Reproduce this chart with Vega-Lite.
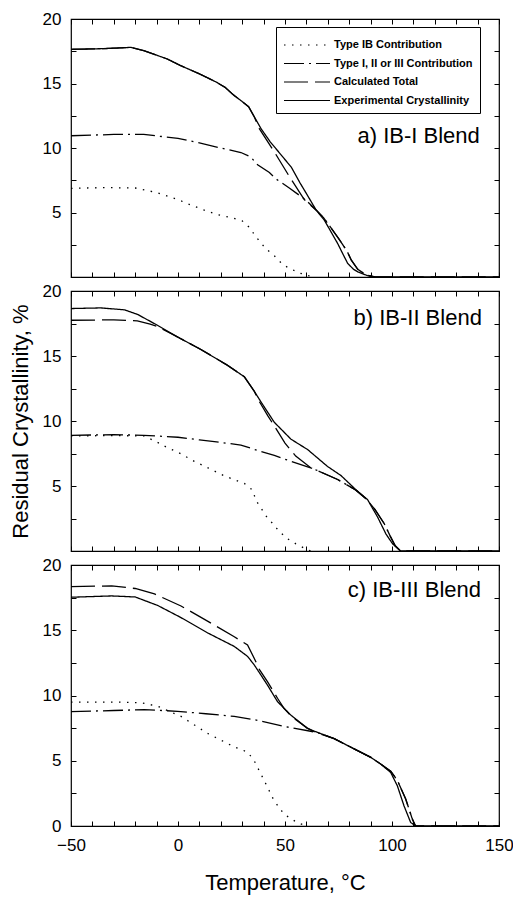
{
  "$schema": "https://vega.github.io/schema/vega-lite/v6.json",
  "padding": {"left": 8, "top": 9, "right": 10, "bottom": 5},
  "background": "white",
  "bounds": "flush",
  "config": {
    "font": "Liberation Sans",
    "view": {"stroke": "black", "strokeWidth": 1.2},
    "axis": {"domain": false, "grid": false, "tickColor": "black", "tickSize": -5, "tickWidth": 1, "labelColor": "black", "titleColor": "black", "labelFontSize": 17, "titleFontSize": 22, "titleFontWeight": "normal", "labelFont": "Liberation Sans", "titleFont": "Liberation Sans"}
  },
  "datasets": {
    "labels": [
      {"p": "a", "label": "a)  IB-I Blend"},
      {"p": "b", "label": "b)  IB-II Blend"},
      {"p": "c", "label": "c)  IB-III Blend"}
    ],
    "curves": [
      {"p":"a","s":"IB","t":-50,"c":6.87},{"p":"a","s":"IB","t":-35,"c":6.93},{"p":"a","s":"IB","t":-20,"c":6.9},{"p":"a","s":"IB","t":-10,"c":6.55},{"p":"a","s":"IB","t":0,"c":6.0},{"p":"a","s":"IB","t":5,"c":5.65},{"p":"a","s":"IB","t":12,"c":5.2},{"p":"a","s":"IB","t":18,"c":4.85},{"p":"a","s":"IB","t":25,"c":4.6},{"p":"a","s":"IB","t":30,"c":4.35},{"p":"a","s":"IB","t":33,"c":3.9},{"p":"a","s":"IB","t":37,"c":3.0},{"p":"a","s":"IB","t":41,"c":2.2},{"p":"a","s":"IB","t":45,"c":1.65},{"p":"a","s":"IB","t":49,"c":0.95},{"p":"a","s":"IB","t":53,"c":0.6},{"p":"a","s":"IB","t":57,"c":0.3},{"p":"a","s":"IB","t":61,"c":0.1},{"p":"a","s":"IB","t":64,"c":0},
      {"p":"a","s":"I","t":-50,"c":10.95},{"p":"a","s":"I","t":-30,"c":11.05},{"p":"a","s":"I","t":-16,"c":11.05},{"p":"a","s":"I","t":0,"c":10.75},{"p":"a","s":"I","t":10,"c":10.4},{"p":"a","s":"I","t":20,"c":10.0},{"p":"a","s":"I","t":29.4,"c":9.65},{"p":"a","s":"I","t":34,"c":9.3},{"p":"a","s":"I","t":37.2,"c":8.7},{"p":"a","s":"I","t":42.7,"c":8.1},{"p":"a","s":"I","t":45.8,"c":7.6},{"p":"a","s":"I","t":52,"c":6.9},{"p":"a","s":"I","t":59.5,"c":6.0},{"p":"a","s":"I","t":64.5,"c":5.2},{"p":"a","s":"I","t":68,"c":4.6},{"p":"a","s":"I","t":72,"c":3.7},{"p":"a","s":"I","t":75,"c":3.0},{"p":"a","s":"I","t":79,"c":2.0},{"p":"a","s":"I","t":81,"c":1.3},{"p":"a","s":"I","t":84,"c":0.6},{"p":"a","s":"I","t":88,"c":0.15},{"p":"a","s":"I","t":92,"c":0},
      {"p":"a","s":"calc","t":-50,"c":17.65},{"p":"a","s":"calc","t":-35,"c":17.7},{"p":"a","s":"calc","t":-22,"c":17.8},{"p":"a","s":"calc","t":-16,"c":17.55},{"p":"a","s":"calc","t":-5,"c":16.9},{"p":"a","s":"calc","t":1,"c":16.4},{"p":"a","s":"calc","t":10,"c":15.75},{"p":"a","s":"calc","t":18,"c":15.1},{"p":"a","s":"calc","t":22,"c":14.7},{"p":"a","s":"calc","t":26,"c":14.1},{"p":"a","s":"calc","t":30,"c":13.6},{"p":"a","s":"calc","t":33,"c":13.2},{"p":"a","s":"calc","t":35.7,"c":12.4},{"p":"a","s":"calc","t":38,"c":11.5},{"p":"a","s":"calc","t":45,"c":9.7},{"p":"a","s":"calc","t":52,"c":7.8},{"p":"a","s":"calc","t":59,"c":6.0},{"p":"a","s":"calc","t":64.5,"c":5.2},{"p":"a","s":"calc","t":68,"c":4.6},{"p":"a","s":"calc","t":72,"c":3.7},{"p":"a","s":"calc","t":75,"c":3.0},{"p":"a","s":"calc","t":79,"c":2.0},{"p":"a","s":"calc","t":81,"c":1.3},{"p":"a","s":"calc","t":84,"c":0.6},{"p":"a","s":"calc","t":88,"c":0.15},{"p":"a","s":"calc","t":92,"c":0},{"p":"a","s":"calc","t":150,"c":0},
      {"p":"a","s":"exp","t":-50,"c":17.65},{"p":"a","s":"exp","t":-35,"c":17.7},{"p":"a","s":"exp","t":-22,"c":17.8},{"p":"a","s":"exp","t":-16,"c":17.55},{"p":"a","s":"exp","t":-5,"c":16.9},{"p":"a","s":"exp","t":1,"c":16.4},{"p":"a","s":"exp","t":10,"c":15.75},{"p":"a","s":"exp","t":18,"c":15.1},{"p":"a","s":"exp","t":22,"c":14.7},{"p":"a","s":"exp","t":26,"c":14.1},{"p":"a","s":"exp","t":30,"c":13.6},{"p":"a","s":"exp","t":33,"c":13.2},{"p":"a","s":"exp","t":35.7,"c":12.4},{"p":"a","s":"exp","t":38.8,"c":11.5},{"p":"a","s":"exp","t":43,"c":10.5},{"p":"a","s":"exp","t":48,"c":9.5},{"p":"a","s":"exp","t":53,"c":8.5},{"p":"a","s":"exp","t":57,"c":7.3},{"p":"a","s":"exp","t":60.6,"c":6.3},{"p":"a","s":"exp","t":64.5,"c":5.2},{"p":"a","s":"exp","t":68.4,"c":4.4},{"p":"a","s":"exp","t":71.5,"c":3.5},{"p":"a","s":"exp","t":74.6,"c":2.6},{"p":"a","s":"exp","t":77,"c":1.8},{"p":"a","s":"exp","t":79.3,"c":1.05},{"p":"a","s":"exp","t":82,"c":0.6},{"p":"a","s":"exp","t":84,"c":0.4},{"p":"a","s":"exp","t":88.6,"c":0.1},{"p":"a","s":"exp","t":92,"c":0},{"p":"a","s":"exp","t":150,"c":0},

      {"p":"b","s":"IB","t":-50,"c":8.85},{"p":"b","s":"IB","t":-30,"c":8.88},{"p":"b","s":"IB","t":-16,"c":8.85},{"p":"b","s":"IB","t":-10,"c":8.4},{"p":"b","s":"IB","t":-5,"c":7.95},{"p":"b","s":"IB","t":0,"c":7.6},{"p":"b","s":"IB","t":7.6,"c":6.9},{"p":"b","s":"IB","t":14,"c":6.4},{"p":"b","s":"IB","t":20,"c":5.9},{"p":"b","s":"IB","t":26,"c":5.5},{"p":"b","s":"IB","t":31,"c":5.2},{"p":"b","s":"IB","t":34.9,"c":4.67},{"p":"b","s":"IB","t":36.4,"c":3.9},{"p":"b","s":"IB","t":38.8,"c":3.3},{"p":"b","s":"IB","t":41.1,"c":2.7},{"p":"b","s":"IB","t":44.3,"c":2.1},{"p":"b","s":"IB","t":47.3,"c":1.5},{"p":"b","s":"IB","t":51.3,"c":0.93},{"p":"b","s":"IB","t":55.1,"c":0.55},{"p":"b","s":"IB","t":59,"c":0.22},{"p":"b","s":"IB","t":62,"c":0},
      {"p":"b","s":"I","t":-50,"c":8.9},{"p":"b","s":"I","t":-30,"c":8.95},{"p":"b","s":"I","t":-16,"c":8.9},{"p":"b","s":"I","t":0,"c":8.75},{"p":"b","s":"I","t":10,"c":8.55},{"p":"b","s":"I","t":20,"c":8.35},{"p":"b","s":"I","t":29.4,"c":8.15},{"p":"b","s":"I","t":38.8,"c":7.65},{"p":"b","s":"I","t":45,"c":7.35},{"p":"b","s":"I","t":52.8,"c":6.9},{"p":"b","s":"I","t":62,"c":6.4},{"p":"b","s":"I","t":65,"c":6.2},{"p":"b","s":"I","t":74.6,"c":5.5},{"p":"b","s":"I","t":83,"c":4.7},{"p":"b","s":"I","t":88,"c":4.0},{"p":"b","s":"I","t":92,"c":3.2},{"p":"b","s":"I","t":96.4,"c":2.1},{"p":"b","s":"I","t":99,"c":1.2},{"p":"b","s":"I","t":101.5,"c":0.4},{"p":"b","s":"I","t":104,"c":0},
      {"p":"b","s":"calc","t":-50,"c":17.75},{"p":"b","s":"calc","t":-30,"c":17.78},{"p":"b","s":"calc","t":-19,"c":17.7},{"p":"b","s":"calc","t":-13,"c":17.45},{"p":"b","s":"calc","t":-10,"c":17.3},{"p":"b","s":"calc","t":-1.75,"c":16.6},{"p":"b","s":"calc","t":10.7,"c":15.5},{"p":"b","s":"calc","t":23,"c":14.3},{"p":"b","s":"calc","t":31,"c":13.4},{"p":"b","s":"calc","t":35.6,"c":12.3},{"p":"b","s":"calc","t":38,"c":11.5},{"p":"b","s":"calc","t":42,"c":10.4},{"p":"b","s":"calc","t":46.6,"c":9.2},{"p":"b","s":"calc","t":50,"c":8.3},{"p":"b","s":"calc","t":55,"c":7.3},{"p":"b","s":"calc","t":62,"c":6.4},{"p":"b","s":"calc","t":65,"c":6.2},{"p":"b","s":"calc","t":74.6,"c":5.5},{"p":"b","s":"calc","t":83,"c":4.7},{"p":"b","s":"calc","t":88,"c":4.0},{"p":"b","s":"calc","t":92,"c":3.2},{"p":"b","s":"calc","t":96.4,"c":2.1},{"p":"b","s":"calc","t":99,"c":1.2},{"p":"b","s":"calc","t":101.5,"c":0.4},{"p":"b","s":"calc","t":104,"c":0},{"p":"b","s":"calc","t":150,"c":0},
      {"p":"b","s":"exp","t":-50,"c":18.65},{"p":"b","s":"exp","t":-36,"c":18.7},{"p":"b","s":"exp","t":-25,"c":18.55},{"p":"b","s":"exp","t":-18.9,"c":18.2},{"p":"b","s":"exp","t":-10,"c":17.4},{"p":"b","s":"exp","t":-1.75,"c":16.6},{"p":"b","s":"exp","t":10.7,"c":15.5},{"p":"b","s":"exp","t":23,"c":14.3},{"p":"b","s":"exp","t":31,"c":13.4},{"p":"b","s":"exp","t":35.6,"c":12.3},{"p":"b","s":"exp","t":38.8,"c":11.46},{"p":"b","s":"exp","t":45,"c":9.9},{"p":"b","s":"exp","t":52.8,"c":8.6},{"p":"b","s":"exp","t":60.6,"c":7.8},{"p":"b","s":"exp","t":69.9,"c":6.5},{"p":"b","s":"exp","t":76.2,"c":5.8},{"p":"b","s":"exp","t":83.2,"c":4.7},{"p":"b","s":"exp","t":88.6,"c":3.95},{"p":"b","s":"exp","t":93.3,"c":2.6},{"p":"b","s":"exp","t":97.2,"c":1.3},{"p":"b","s":"exp","t":100.3,"c":0.55},{"p":"b","s":"exp","t":104,"c":0},{"p":"b","s":"exp","t":150,"c":0},

      {"p":"c","s":"IB","t":-50,"c":9.5},{"p":"c","s":"IB","t":-30,"c":9.5},{"p":"c","s":"IB","t":-17.3,"c":9.45},{"p":"c","s":"IB","t":-9.5,"c":9.18},{"p":"c","s":"IB","t":1.4,"c":8.4},{"p":"c","s":"IB","t":13.8,"c":7.1},{"p":"c","s":"IB","t":26.3,"c":6.06},{"p":"c","s":"IB","t":32.5,"c":5.67},{"p":"c","s":"IB","t":35.6,"c":5.0},{"p":"c","s":"IB","t":40.3,"c":3.48},{"p":"c","s":"IB","t":44.9,"c":1.94},{"p":"c","s":"IB","t":49.6,"c":0.9},{"p":"c","s":"IB","t":55.8,"c":0.25},{"p":"c","s":"IB","t":60.5,"c":0},
      {"p":"c","s":"I","t":-50,"c":8.76},{"p":"c","s":"I","t":-30,"c":8.85},{"p":"c","s":"I","t":-15.8,"c":8.92},{"p":"c","s":"I","t":-0.2,"c":8.79},{"p":"c","s":"I","t":13,"c":8.6},{"p":"c","s":"I","t":26.3,"c":8.4},{"p":"c","s":"I","t":35.6,"c":8.15},{"p":"c","s":"I","t":49.6,"c":7.63},{"p":"c","s":"I","t":62,"c":7.26},{"p":"c","s":"I","t":66.7,"c":7.08},{"p":"c","s":"I","t":73,"c":6.69},{"p":"c","s":"I","t":82.3,"c":5.91},{"p":"c","s":"I","t":90.1,"c":5.26},{"p":"c","s":"I","t":94.7,"c":4.75},{"p":"c","s":"I","t":99.4,"c":4.2},{"p":"c","s":"I","t":102.5,"c":3.5},{"p":"c","s":"I","t":106.4,"c":2.07},{"p":"c","s":"I","t":109.5,"c":0.53},{"p":"c","s":"I","t":111,"c":0},
      {"p":"c","s":"calc","t":-50,"c":18.34},{"p":"c","s":"calc","t":-31,"c":18.4},{"p":"c","s":"calc","t":-20,"c":18.2},{"p":"c","s":"calc","t":-11,"c":17.78},{"p":"c","s":"calc","t":1.4,"c":16.86},{"p":"c","s":"calc","t":13.8,"c":15.7},{"p":"c","s":"calc","t":26.3,"c":14.5},{"p":"c","s":"calc","t":32.5,"c":13.87},{"p":"c","s":"calc","t":35.6,"c":12.86},{"p":"c","s":"calc","t":38,"c":12.0},{"p":"c","s":"calc","t":41.8,"c":11.06},{"p":"c","s":"calc","t":46.5,"c":9.79},{"p":"c","s":"calc","t":49.6,"c":9.0},{"p":"c","s":"calc","t":53,"c":8.4},{"p":"c","s":"calc","t":60.5,"c":7.5},{"p":"c","s":"calc","t":64,"c":7.2},{"p":"c","s":"calc","t":73,"c":6.69},{"p":"c","s":"calc","t":82.3,"c":5.91},{"p":"c","s":"calc","t":90.1,"c":5.26},{"p":"c","s":"calc","t":94.7,"c":4.75},{"p":"c","s":"calc","t":99.4,"c":4.2},{"p":"c","s":"calc","t":102.5,"c":3.5},{"p":"c","s":"calc","t":106.4,"c":2.07},{"p":"c","s":"calc","t":109.5,"c":0.53},{"p":"c","s":"calc","t":111,"c":0},{"p":"c","s":"calc","t":150,"c":0},
      {"p":"c","s":"exp","t":-50,"c":17.53},{"p":"c","s":"exp","t":-31,"c":17.63},{"p":"c","s":"exp","t":-20,"c":17.55},{"p":"c","s":"exp","t":-9.5,"c":16.9},{"p":"c","s":"exp","t":1.4,"c":15.97},{"p":"c","s":"exp","t":13.8,"c":14.8},{"p":"c","s":"exp","t":26.3,"c":13.76},{"p":"c","s":"exp","t":32.5,"c":13.0},{"p":"c","s":"exp","t":35.6,"c":12.35},{"p":"c","s":"exp","t":38.7,"c":11.58},{"p":"c","s":"exp","t":41.8,"c":10.8},{"p":"c","s":"exp","t":46.5,"c":9.53},{"p":"c","s":"exp","t":52.7,"c":8.5},{"p":"c","s":"exp","t":60.5,"c":7.47},{"p":"c","s":"exp","t":66.7,"c":7.08},{"p":"c","s":"exp","t":73,"c":6.69},{"p":"c","s":"exp","t":82.3,"c":5.91},{"p":"c","s":"exp","t":90.1,"c":5.26},{"p":"c","s":"exp","t":94.7,"c":4.75},{"p":"c","s":"exp","t":99.4,"c":4.1},{"p":"c","s":"exp","t":102.5,"c":3.08},{"p":"c","s":"exp","t":105.6,"c":1.55},{"p":"c","s":"exp","t":108.7,"c":0.28},{"p":"c","s":"exp","t":111,"c":0},{"p":"c","s":"exp","t":150,"c":0}
    ]
  },
  "spacing": 14,
  "resolve": {"legend": {"strokeDash": "independent"}},
  "vconcat": [
    {
      "width": 428, "height": 258,
      "resolve": {"axis": {"x": "independent", "y": "independent"}},
      "layer": [
        {
          "data": {"name": "curves"},
          "transform": [{"filter": "datum.p === 'a'"}],
          "mark": {"type": "line", "color": "black", "strokeWidth": 1.3},
          "encoding": {
            "x": {"field": "t", "type": "quantitative", "scale": {"domain": [-50, 150], "nice": false}, "axis": {"values": [-50,-40,-30,-20,-10,0,10,20,30,40,50,60,70,80,90,100,110,120,130,140,150], "labels": false, "title": null}},
            "y": {"field": "c", "type": "quantitative", "scale": {"domain": [0, 20], "nice": false}, "axis": {"values": [0,2.5,5,7.5,10,12.5,15,17.5,20], "labelExpr": "datum.value % 5 === 0 && datum.value > 0 ? datum.label : ''", "title": null, "labelPadding": 15}},
            "strokeDash": {"field": "s", "type": "nominal", "scale": {"domain": ["IB", "I", "calc", "exp"], "range": [[1.5, 6.5], [20, 5, 2, 5], [24, 7], [1, 0]]},
              "legend": {"orient": "none", "legendX": 205, "legendY": 8, "title": null, "labelExpr": "datum.value === 'IB' ? 'Type IB Contribution' : datum.value === 'I' ? 'Type I, II or III Contribution' : datum.value === 'calc' ? 'Calculated Total' : 'Experimental Crystallinity'", "symbolType": "M-2.3,0H2.3", "symbolSize": 400, "symbolOffset": 13, "symbolStrokeWidth": 1.2, "symbolStrokeColor": "black", "symbolFillColor": "transparent", "strokeColor": "black", "fillColor": "white", "padding": 7, "rowPadding": 2.5, "labelFontSize": 11, "labelFontWeight": "bold", "labelFont": "Liberation Sans", "labelColor": "black", "labelOffset": 16, "labelLimit": 300}}
          }
        },
        {
          "data": {"name": "labels"},
          "transform": [{"filter": "datum.p === 'a'"}],
          "mark": {"type": "text", "align": "right", "baseline": "middle", "fontSize": 22, "font": "Liberation Sans", "color": "black"},
          "encoding": {
            "x": {"datum": 141, "type": "quantitative", "axis": {"orient": "top", "values": [-50,-40,-30,-20,-10,0,10,20,30,40,50,60,70,80,90,100,110,120,130,140,150], "labels": false, "title": null}},
            "y": {"datum": 10.9, "type": "quantitative", "axis": {"orient": "right", "values": [0,2.5,5,7.5,10,12.5,15,17.5,20], "labels": false, "title": null}},
            "text": {"field": "label"}
          }
        }
      ]
    },
    {
      "width": 428, "height": 260,
      "resolve": {"axis": {"x": "independent", "y": "independent"}},
      "layer": [
        {
          "data": {"name": "curves"},
          "transform": [{"filter": "datum.p === 'b'"}],
          "mark": {"type": "line", "color": "black", "strokeWidth": 1.3},
          "encoding": {
            "x": {"field": "t", "type": "quantitative", "scale": {"domain": [-50, 150], "nice": false}, "axis": {"values": [-50,-40,-30,-20,-10,0,10,20,30,40,50,60,70,80,90,100,110,120,130,140,150], "labels": false, "title": null}},
            "y": {"field": "c", "type": "quantitative", "scale": {"domain": [0, 20], "nice": false}, "axis": {"values": [0,2.5,5,7.5,10,12.5,15,17.5,20], "labelExpr": "datum.value % 5 === 0 && datum.value > 0 ? datum.label : ''", "title": "Residual Crystallinity, %", "titlePadding": 10, "labelPadding": 15}},
            "strokeDash": {"field": "s", "type": "nominal", "scale": {"domain": ["IB", "I", "calc", "exp"], "range": [[1.5, 6.5], [20, 5, 2, 5], [24, 7], [1, 0]]}, "legend": null}
          }
        },
        {
          "data": {"name": "labels"},
          "transform": [{"filter": "datum.p === 'b'"}],
          "mark": {"type": "text", "align": "right", "baseline": "middle", "fontSize": 22, "font": "Liberation Sans", "color": "black"},
          "encoding": {
            "x": {"datum": 142, "type": "quantitative", "axis": {"orient": "top", "values": [-50,-40,-30,-20,-10,0,10,20,30,40,50,60,70,80,90,100,110,120,130,140,150], "labels": false, "title": null}},
            "y": {"datum": 17.9, "type": "quantitative", "axis": {"orient": "right", "values": [0,2.5,5,7.5,10,12.5,15,17.5,20], "labels": false, "title": null}},
            "text": {"field": "label"}
          }
        }
      ]
    },
    {
      "width": 428, "height": 261,
      "resolve": {"axis": {"x": "independent", "y": "independent"}},
      "layer": [
        {
          "data": {"name": "curves"},
          "transform": [{"filter": "datum.p === 'c'"}],
          "mark": {"type": "line", "color": "black", "strokeWidth": 1.3},
          "encoding": {
            "x": {"field": "t", "type": "quantitative", "scale": {"domain": [-50, 150], "nice": false}, "axis": {"values": [-50,-40,-30,-20,-10,0,10,20,30,40,50,60,70,80,90,100,110,120,130,140,150], "labelExpr": "datum.value % 50 === 0 ? datum.label : ''", "labelFlush": false, "labelPadding": 16, "title": "Temperature, °C", "titlePadding": 19}},
            "y": {"field": "c", "type": "quantitative", "scale": {"domain": [0, 20], "nice": false}, "axis": {"values": [0,2.5,5,7.5,10,12.5,15,17.5,20], "labelExpr": "datum.value % 5 === 0 ? datum.label : ''", "title": null, "labelPadding": 15}},
            "strokeDash": {"field": "s", "type": "nominal", "scale": {"domain": ["IB", "I", "calc", "exp"], "range": [[1.5, 6.5], [20, 5, 2, 5], [24, 7], [1, 0]]}, "legend": null}
          }
        },
        {
          "data": {"name": "labels"},
          "transform": [{"filter": "datum.p === 'c'"}],
          "mark": {"type": "text", "align": "right", "baseline": "middle", "fontSize": 22, "font": "Liberation Sans", "color": "black"},
          "encoding": {
            "x": {"datum": 141.6, "type": "quantitative", "axis": {"orient": "top", "values": [-50,-40,-30,-20,-10,0,10,20,30,40,50,60,70,80,90,100,110,120,130,140,150], "labels": false, "title": null}},
            "y": {"datum": 18.1, "type": "quantitative", "axis": {"orient": "right", "values": [0,2.5,5,7.5,10,12.5,15,17.5,20], "labels": false, "title": null}},
            "text": {"field": "label"}
          }
        }
      ]
    }
  ]
}
